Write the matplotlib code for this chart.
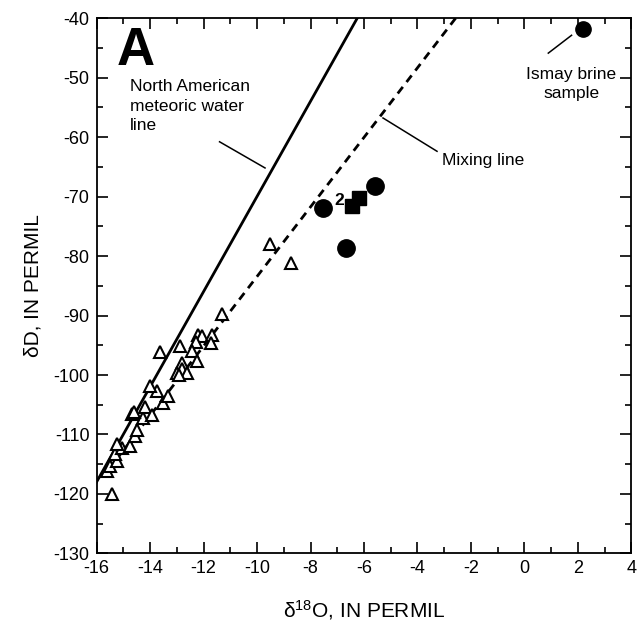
import numpy as np
import matplotlib
matplotlib.use('Agg')
import matplotlib.pyplot as plt
from matplotlib.ticker import MultipleLocator

plt.rcParams['font.family'] = ['Liberation Sans', 'DejaVu Sans']
plt.rcParams['axes.unicode_minus'] = False
plt.rcParams['mathtext.default'] = 'regular'

# meteoric water samples (open triangles)
tri_x = [-15.42, -15.62, -15.5, -15.25, -15.31, -15.06, -15.25, -14.75, -14.56, -14.5,
         -14.25, -14.68, -14.6, -14.19, -13.94, -13.5, -13.32, -13.75, -14.0,
         -13.63, -12.88, -12.19, -12.05, -11.69, -11.73, -12.28, -12.44, -12.25,
         -12.81, -12.81, -13.0, -12.63, -12.9, -11.32, -9.51, -8.74]
tri_y = [-120.0, -116.1, -115.3, -114.5, -113.3, -112.2, -111.6, -111.9, -110.2, -109.3,
         -107.3, -106.5, -106.2, -105.4, -106.7, -104.7, -103.5, -102.7, -101.8,
         -96.2, -95.1, -93.2, -93.5, -93.2, -94.6, -94.4, -96.0, -97.6,
         -97.9, -99.0, -99.6, -99.6, -100.0, -89.7, -78.0, -81.1]

# brine samples (filled circles / squares)
circ_x = [-7.53, -6.67, -5.59]
circ_y = [-71.9, -78.7, -68.2]
sq_x = [-6.45, -6.19]
sq_y = [-71.6, -70.3]
ismay_x, ismay_y = 2.18, -41.9

# lines
mwl_x = [-16, -6.25]
mwl_y = [-118, -40]
mix_x = [-15.6, -2.57]
mix_y = [-116.2, -40]

fig = plt.figure(figsize=(6.4, 6.37), dpi=100)
ax = fig.add_axes([0.1508, 0.1311, 0.8359, 0.8406])

ax.plot(mwl_x, mwl_y, '-', color='black', lw=2.0)
ax.plot(mix_x, mix_y, color='black', lw=2.0, dashes=(3.0, 2.2))

ax.plot(tri_x, tri_y, '^', ms=9, mfc='white', mec='black', mew=1.5, ls='none')
ax.plot(circ_x, circ_y, 'o', ms=12.5, color='black', ls='none')
ax.plot(sq_x, sq_y, 's', ms=9.5, color='black', ls='none')
ax.plot([ismay_x], [ismay_y], 'o', ms=11, color='black', ls='none')

# labels and leader lines
ax.text(-15.25, -45.6, 'A', fontsize=38, fontweight='bold', ha='left', va='center')
ax.text(-14.75, -50.3, 'North American\nmeteoric water\nline', fontsize=12.5, ha='left', va='top',
        linespacing=1.35)
ax.plot([-11.4, -9.7], [-60.8, -65.2], color='black', lw=1.1)
ax.text(-3.1, -64.0, 'Mixing line', fontsize=12.5, ha='left', va='center')
ax.plot([-5.29, -3.27], [-56.8, -62.4], color='black', lw=1.1)
ax.text(1.75, -48.2, 'Ismay brine\nsample', fontsize=12.5, ha='center', va='top', linespacing=1.35)
ax.plot([0.89, 1.76], [-45.9, -42.9], color='black', lw=1.1)
ax.text(-7.1, -70.6, '2', fontsize=12.5, fontweight='bold', ha='left', va='center')

ax.set_xlim(-16, 4)
ax.set_ylim(-130, -40)
ax.xaxis.set_major_locator(MultipleLocator(2))
ax.xaxis.set_minor_locator(MultipleLocator(1))
ax.yaxis.set_major_locator(MultipleLocator(10))
ax.yaxis.set_minor_locator(MultipleLocator(5))
ax.tick_params(which='both', direction='in', top=True, right=True, labelsize=13, width=1.2)
ax.tick_params(which='major', length=8, pad=5)
ax.tick_params(which='minor', length=4.5)
for s in ax.spines.values():
    s.set_linewidth(1.3)

ax.set_xlabel('δ$^{18}$O, IN PERMIL', fontsize=15, labelpad=15)
ax.set_ylabel('δD, IN PERMIL', fontsize=15, labelpad=8)

fig.savefig('out.png', dpi=100)
